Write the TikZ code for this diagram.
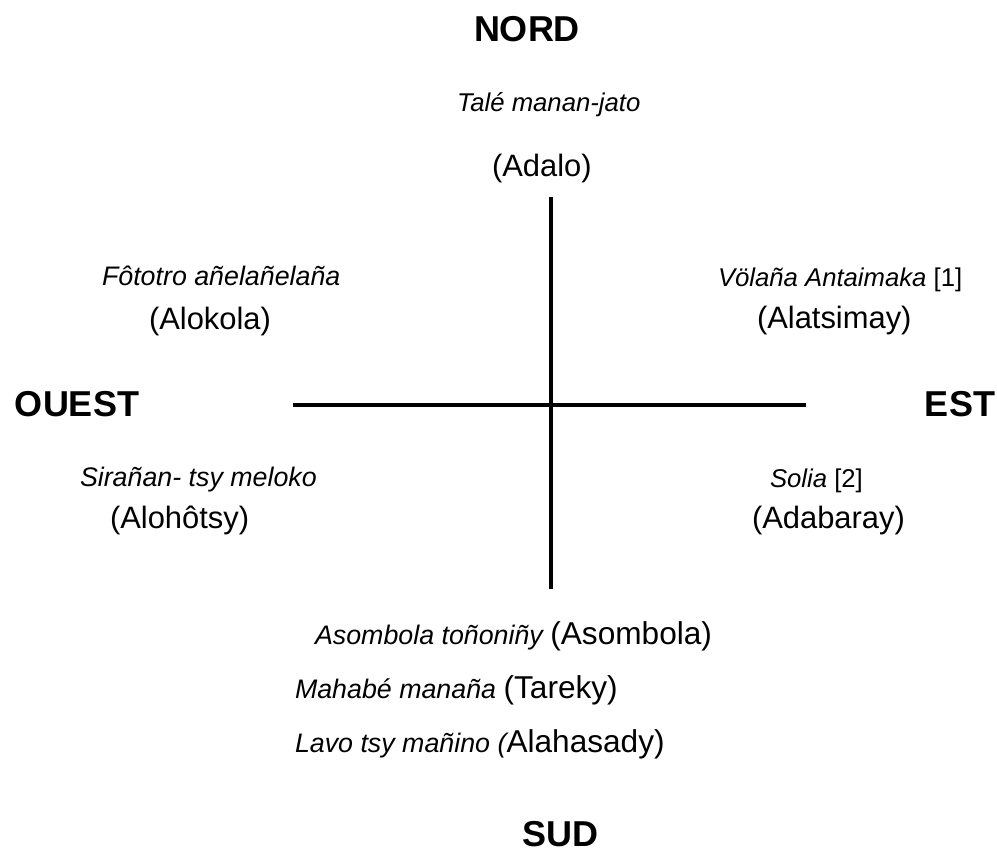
\documentclass[tikz,border=0pt]{standalone}
\usepackage{fontspec}
\setmainfont{Liberation Sans}
\newcommand\txtbold{\fontsize{36}{40}\selectfont\bfseries}
\newcommand\txtreg{\fontsize{30.9}{34}\selectfont\upshape}
\newcommand\txtregb{\fontsize{31.6}{35}\selectfont\upshape}
\newcommand\txtit{\fontsize{25.7}{29}\selectfont\itshape}
\newcommand\txtitb{\fontsize{26.8}{30}\selectfont\itshape}
\newcommand\txtup{\fontsize{25.7}{29}\selectfont\upshape}
\begin{document}
\begin{tikzpicture}[x=1pt,y=-1pt,
  lab/.style={anchor=base west, inner sep=0pt, outer sep=0pt},
  labr/.style={anchor=base east, inner sep=0pt, outer sep=0pt},
  axis/.style={line width=3.5pt}]
\useasboundingbox (0,0) rectangle (997,853);
% cardinal points
\node[lab, font=\txtbold] (nord) at (474,42) {NORD};
\node[lab, font=\txtbold] (ouest) at (15,417) {OUEST};
\node[labr, font=\txtbold] (est) at (995,417) {EST};
\node[lab, font=\txtbold] (sud) at (522,846) {SUD};
% axes
\coordinate (vtop) at (551,197);
\coordinate (vbot) at (551,589);
\coordinate (hl) at (293,405);
\coordinate (hr) at (806,405);
\draw[axis] (vtop) -- (vbot);
\draw[axis] (hl) -- (hr);
% north
\node[lab, font=\txtit] (tale) at (457,112) {Talé manan-jato};
\node[lab, font=\txtreg] (adalo) at (492,177) {(Adalo)};
% north-west
\node[lab, font=\txtitb] (fototro) at (102,286) {Fôtotro añelañelaña};
\node[lab, font=\txtreg] (alokola) at (149,330) {(Alokola)};
% north-east
\node[lab, font=\txtit] (volana) at (718,287) {Völaña Antaimaka \txtup[1]};
\node[lab, font=\txtreg] (alatsimay) at (757,329) {(Alatsimay)};
% south-west
\node[lab, font=\txtitb] (siranan) at (80,486) {Sirañan- tsy meloko};
\node[lab, font=\txtreg] (alohotsy) at (110,528) {(Alohôtsy)};
% south-east
\node[lab, font=\txtit] (solia) at (770,487) {Solia \txtup[2]};
\node[lab, font=\txtreg] (adabaray) at (752,528) {(Adabaray)};
% south
\node[lab, font=\txtitb] (asombola) at (315,644) {Asombola toñoniñy \txtregb(Asombola)};
\node[lab, font=\txtitb] (mahabe) at (295,698) {Mahabé manaña \txtregb(Tareky)};
\node[lab, font=\txtitb] (lavo) at (295,752) {Lavo tsy mañino (\txtregb Alahasady)};
\end{tikzpicture}
\end{document}
